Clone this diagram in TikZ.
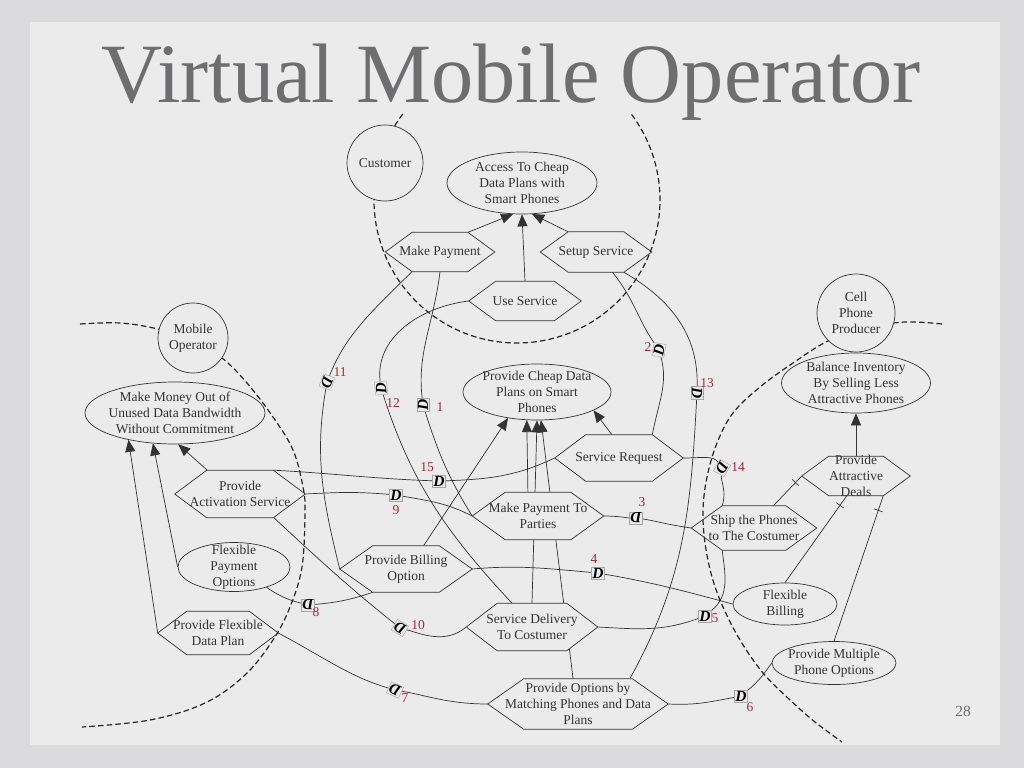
\documentclass[tikz,border=0pt]{standalone}
\usepackage{fontspec}
\setmainfont{Liberation Serif}
\usetikzlibrary{positioning,arrows.meta,calc,shapes.geometric}
\definecolor{Frame}{HTML}{DBDBDE}
\definecolor{Paper}{HTML}{EBEBEC}
\definecolor{Ink}{HTML}{333333}
\definecolor{Muted}{HTML}{6E6E71}
\definecolor{Num}{HTML}{B3242C}
\newdimen\unitpx \unitpx=0.025cm
\pgfdeclarelayer{slide}
\pgfdeclarelayer{links}
\pgfdeclarelayer{hexes}
\pgfsetlayers{slide,links,hexes,main}

% hexagon of a task over its node box, #2 = depth of the points
\newcommand\taskhex[2]{%
  \filldraw[fill=Paper, draw=Ink, line width=0.5pt]
    (#1.west) -- ([xshift=#2\unitpx]#1.north west) -- ([xshift=-#2\unitpx]#1.north east)
    -- (#1.east) -- ([xshift=-#2\unitpx]#1.south east) -- ([xshift=#2\unitpx]#1.south west) -- cycle;}

\begin{document}
\begin{tikzpicture}[x=1\unitpx, y=1\unitpx, every node/.style={font=\fontsize{9.6}{11.3}\selectfont, text=Ink}]
  \tikzstyle{txt}=[align=center, inner sep=0pt]
  \tikzset{
    actor/.style={circle, draw=Ink, fill=Paper, line width=0.5pt, minimum size=#1\unitpx, inner sep=0pt, align=center},
    goal/.style 2 args={ellipse, draw=Ink, fill=Paper, line width=0.5pt, minimum width=#1\unitpx, minimum height=#2\unitpx, inner sep=0pt},
    task/.style 2 args={rectangle, minimum width=#1\unitpx, minimum height=#2\unitpx, inner sep=0pt, align=center}}
  \tikzstyle{boundary}=[draw=black!85, line width=0.85pt, dash pattern=on 4pt off 2.2pt]
  \tikzstyle{link}=[draw=Ink, line width=0.5pt]
  \tikzstyle{means}=[link, -{Triangle[length=3mm, width=2.5mm]}]
  \tikzstyle{dep}=[rectangle, draw=black!35, fill=Paper, line width=0.3pt, inner sep=0.7pt, font=\fontsize{11}{11}\selectfont\bfseries\itshape, text=black]
  \tikzstyle{num}=[inner sep=0pt, text=Num]
  \tikzstyle{bar}=[sloped, inner sep=0pt]

  % slide
  \begin{pgfonlayer}{slide}
    \fill[Frame] (0,0) rectangle (1024,-768);
    \fill[Paper] (30,-22) rectangle (1000,-745);
  \end{pgfonlayer}
  \node[anchor=base, font=\fontsize{60}{60}\selectfont, text=Muted, inner sep=0pt] (title) at (511,-103) {Virtual Mobile Operator};
  \node[font=\fontsize{11}{11}\selectfont, text=Muted] (page) at (963,-711) {28};

  % actor boundaries
  \draw[boundary] (517,-200) ++(143:143) arc[start angle=143, end angle=397, radius=143];
  \draw[boundary] plot[smooth, tension=0.6] coordinates {(80,-324) (120,-323) (158,-329) (193,-340) (222,-358) (247,-383) (273,-417) (293,-450) (303,-487) (305,-513) (302,-567) (290,-607) (273,-640) (245,-675) (205,-703) (150,-720) (82,-727)};
  \draw[boundary] plot[smooth, tension=0.6] coordinates {(942,-324) (905,-322) (866,-328) (828,-341) (793,-363) (760,-387) (733,-413) (717,-443) (707,-477) (703,-510) (705,-543) (712,-577) (723,-607) (740,-640) (763,-673) (790,-700) (815,-722) (842,-742)};

  % actors
  \node[actor=76] (cust) at (385,-163) {Customer};
  \node[actor=70] (mobop) at (193,-338) {Mobile\\Operator};
  \node[actor=78] (cpp) at (856,-313) {Cell\\Phone\\Producer};

  % goals
  \node[goal={150}{62}] (access) at (522,-183) {};
  \node[txt] (access-t) at (access) {Access To Cheap\\Data Plans with\\Smart Phones};
  \node[goal={180}{62}] (money) at (175,-413) {};
  \node[txt] (money-t) at (money) {Make Money Out of\\Unused Data Bandwidth\\Without Commitment};
  \node[goal={148}{56}] (cheap) at (537,-392) {};
  \node[txt] (cheap-t) at (cheap) {Provide Cheap Data\\Plans on Smart\\Phones};
  \node[goal={149}{60}] (balance) at (856,-383) {};
  \node[txt] (balance-t) at (balance) {Balance Inventory\\By Selling Less\\Attractive Phones};
  \node[goal={112}{49}] (fpay) at (234,-567) {};
  \node[txt] (fpay-t) at (fpay) {Flexible\\Payment\\Options};
  \node[goal={104}{42}] (fbill) at (785,-604) {};
  \node[txt] (fbill-t) at (fbill) {Flexible\\Billing};
  \node[goal={124}{43}] (pmpo) at (834,-663) {};
  \node[txt] (pmpo-t) at (pmpo) {Provide Multiple\\Phone Options};

  % tasks
  \node[task={109}{39}] (mpay) at (440,-252) {Make Payment};
  \node[task={111}{40}] (setup) at (596,-252) {Setup Service};
  \node[task={112}{39}] (usesv) at (525,-301) {Use Service};
  \node[task={108}{39}] (deals) at (856,-476) {};
  \node[txt] (deals-t) at (deals) {Provide\\Attractive\\Deals};
  \node[task={128}{46}] (sreq) at (619,-458) {Service Request};
  \node[task={130}{47}] (activ) at (240,-494) {Provide\\Activation Service};
  \node[task={131}{47}] (mptp) at (538,-516) {Make Payment To\\Parties};
  \node[task={125}{44}] (ship) at (754,-528) {Ship the Phones\\to The Costumer};
  \node[task={132}{46}] (bill) at (406,-569) {Provide Billing\\Option};
  \node[task={120}{43}] (fdata) at (218,-633) {Provide Flexible\\Data Plan};
  \node[task={131}{47}] (sdel) at (532,-627) {Service Delivery\\To Costumer};
  \node[task={180}{50}] (popt) at (578,-704) {Provide Options by\\Matching Phones and Data\\Plans};
  \begin{pgfonlayer}{hexes}
    \taskhex{mpay}{27} \taskhex{setup}{28} \taskhex{usesv}{27} \taskhex{deals}{27}
    \taskhex{sreq}{31} \taskhex{activ}{32} \taskhex{mptp}{33} \taskhex{ship}{31}
    \taskhex{bill}{33} \taskhex{fdata}{29} \taskhex{sdel}{31} \taskhex{popt}{36}
  \end{pgfonlayer}

  % dependums
  \node[dep, rotate=90] (d1) at (423,-405) {D};
  \node[dep, rotate=80] (d2) at (659,-350) {D};
  \node[dep, rotate=180] (d3) at (636,-518) {D};
  \node[dep] (d4) at (598,-573) {D};
  \node[dep] (d5) at (705,-616) {D};
  \node[dep] (d6) at (741,-696) {D};
  \node[dep, rotate=155] (d7) at (395,-690) {D};
  \node[dep, rotate=180] (d8) at (308,-605) {D};
  \node[dep] (d9) at (396,-495) {D};
  \node[dep, rotate=150] (d10) at (400,-628) {D};
  \node[dep, rotate=-110] (d11) at (327,-382) {D};
  \node[dep, rotate=95] (d12) at (381,-388) {D};
  \node[dep, rotate=-90] (d13) at (697,-393) {D};
  \node[dep, rotate=-120] (d14) at (722,-468) {D};
  \node[dep] (d15) at (439,-481) {D};

  \node[num] (n1) at (440,-407) {1};
  \node[num] (n2) at (648,-347) {2};
  \node[num] (n3) at (642,-502) {3};
  \node[num] (n4) at (594,-559) {4};
  \node[num] (n5) at (715,-618) {5};
  \node[num] (n6) at (750,-707) {6};
  \node[num] (n7) at (405,-698) {7};
  \node[num] (n8) at (316,-612) {8};
  \node[num] (n9) at (396,-510) {9};
  \node[num] (n10) at (418,-625) {10};
  \node[num] (n11) at (340,-372) {11};
  \node[num] (n12) at (393,-403) {12};
  \node[num] (n13) at (707,-383) {13};
  \node[num] (n14) at (738,-467) {14};
  \node[num] (n15) at (427,-467) {15};

  \begin{pgfonlayer}{links}
    % means-end
    \draw[means] (mpay.35) -- (access.-106);
    \draw[means] (usesv.north) -- (access.south);
    \draw[means] (setup.144) -- (access.-72);
    \draw[means] (fdata.west) -- (money.-150);
    \draw[means] (fpay.west) -- (money.-126);
    \draw[means] (activ.144) -- (money.-84);
    \draw[means] (bill.53) -- (cheap.-138);
    \draw[means] (mptp.113) -- (cheap.-110);
    \draw[means] (sdel.north) -- (cheap.south);
    \draw[means] (popt.101) -- (cheap.-82);
    \draw[means] (sreq.107) -- (cheap.-18);
    \draw[means] (deals.north) -- (balance.south);
    % decompositions
    \draw[link] (ship.49) -- node[bar, pos=0.78] {\rule{0.5pt}{9\unitpx}} (deals.west);
    \draw[link] (fbill.north) -- node[bar, pos=0.89] {\rule{0.5pt}{9\unitpx}} (deals.-115);
    \draw[link] (pmpo.north) -- node[bar, pos=0.9] {\rule{0.5pt}{9\unitpx}} (deals.-36);
    % dependencies
    \draw[link] (mpay.south) to[out=-97, in=90] (d1) to[out=-80, in=122] (mptp.west);
    \draw[link] (setup.-51) to[out=-51, in=114] (d2) to[out=-85, in=79] (sreq.35);
    \draw[link] (mptp.east) to[out=0, in=180] (d3) to[out=-8, in=172] (ship.west);
    \draw[link] (bill.east) to[out=5, in=175] (d4) to[out=-10, in=165] (fbill.west);
    \draw[link] (sdel.east) to[out=-3, in=-160] (d5) to[out=40, in=-83] (ship.-145);
    \draw[link] (popt.east) to[out=-3, in=-169] (d6) to[out=40, in=-125] (pmpo.west);
    \draw[link] (fdata.east) to[out=-28, in=160] (d7) to[out=-15, in=180] (popt.west);
    \draw[link] (fpay.-32) to[out=-35, in=165] (d8) to[out=5, in=-161] (bill.-145);
    \draw[link] (activ.east) to[out=3, in=175] (d9) to[out=-10, in=153] (mptp.west);
    \draw[link] (activ.-35) to[out=-43, in=137] (d10) to[out=-25, in=-140] (sdel.west);
    \draw[link] (mpay.-145) to[out=-135, in=75] (d11) to[out=-95, in=104] (bill.west);
    \draw[link] (usesv.west) to[out=187, in=90] (d12) to[out=-76, in=133] (sdel.130);
    \draw[link] (setup.-36) to[out=-30, in=95] (d13) to[out=-90, in=61] (popt.26);
    \draw[link] (sreq.east) to[out=0, in=150] (d14) to[out=-70, in=72] (ship.145);
    \draw[link] (activ.35) to[out=-3, in=178] (d15) to[out=2, in=-155] (sreq.west);
  \end{pgfonlayer}
\end{tikzpicture}
\end{document}
